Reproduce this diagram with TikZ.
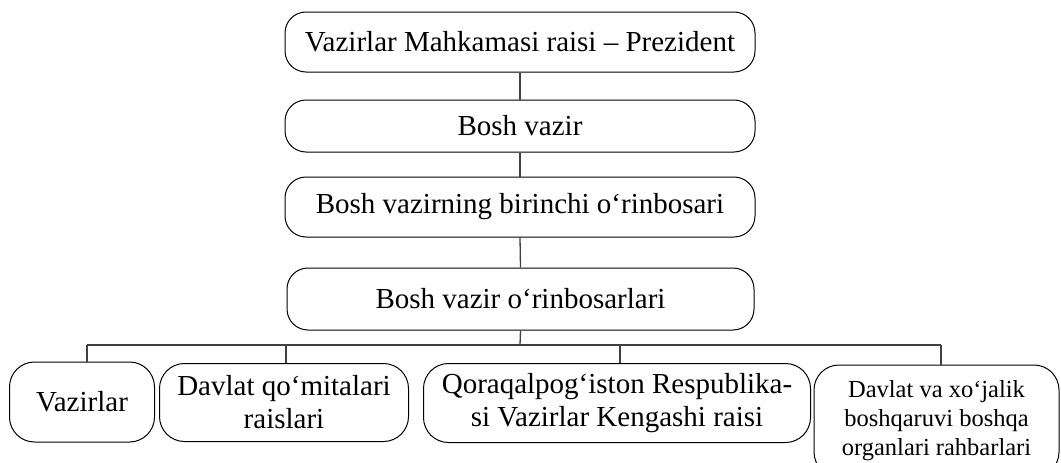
\documentclass[tikz,border=0pt]{standalone}
\usepackage{fontspec}
\setmainfont{Liberation Serif}
\begin{document}
\begin{tikzpicture}[x=1pt,y=-1pt,
  topbox/.style={draw=black,line width=1pt,rounded corners=21pt,inner sep=0pt,align=center,
    font=\fontsize{29}{33}\selectfont},
  lowbox/.style={draw=black,line width=1pt,rounded corners=25pt,inner sep=0pt,align=center,
    font=\fontsize{29}{33}\selectfont},
  conn/.style={draw=black!75,line width=1.3pt}]
\useasboundingbox (0,0) rectangle (1061,463);
\clip (0,0) rectangle (1061,463);
\node[topbox,minimum width=470pt,minimum height=60pt] (n1) at (520,42) {Vazirlar Mahkamasi raisi – Prezident};
\node[topbox,minimum width=470pt,minimum height=52pt] (n2) at (520,126) {Bosh vazir};
\node[topbox,minimum width=470pt,minimum height=60pt] (n3) at (520,207) {Bosh vazirning birinchi o‘rinbosari};
\node[topbox,minimum width=467pt,minimum height=62pt] (n4) at (520.5,299) {Bosh vazir o‘rinbosarlari};
\node[lowbox,minimum width=145pt,minimum height=80pt] (b1) at (82,402) {Vazirlar};
\node[lowbox,minimum width=249pt,minimum height=78pt] (b2) at (284,402.5) {Davlat qo‘mitalari\\raislari};
\node[lowbox,minimum width=387pt,minimum height=79pt] (b3) at (617,403) {Qoraqalpog‘iston Respublika-\\si Vazirlar Kengashi raisi};
\node[lowbox,minimum width=245pt,minimum height=112pt,font=\fontsize{24.5}{29}\selectfont] (b4) at (936.5,421) {Davlat va xo‘jalik\\boshqaruvi boshqa\\organlari rahbarlari};
\draw[conn] (n1.south) -- (n2.north);
\draw[conn] (n2.south) -- (n3.north);
\draw[conn] (n3.south) -- (n4.north);
\coordinate (bus) at (520,345);
\coordinate (d1) at (87,345);
\coordinate (d2) at (286,345);
\coordinate (d3) at (620,345);
\coordinate (d4) at (941,345);
\draw[conn] (n4.south) -- (bus);
\draw[conn] (d1) -- (d4);
\draw[conn] (d1) -- (d1 |- b1.north);
\draw[conn] (d2) -- (d2 |- b2.north);
\draw[conn] (d3) -- (d3 |- b3.north);
\draw[conn] (d4) -- (d4 |- b4.north);
\end{tikzpicture}
\end{document}
